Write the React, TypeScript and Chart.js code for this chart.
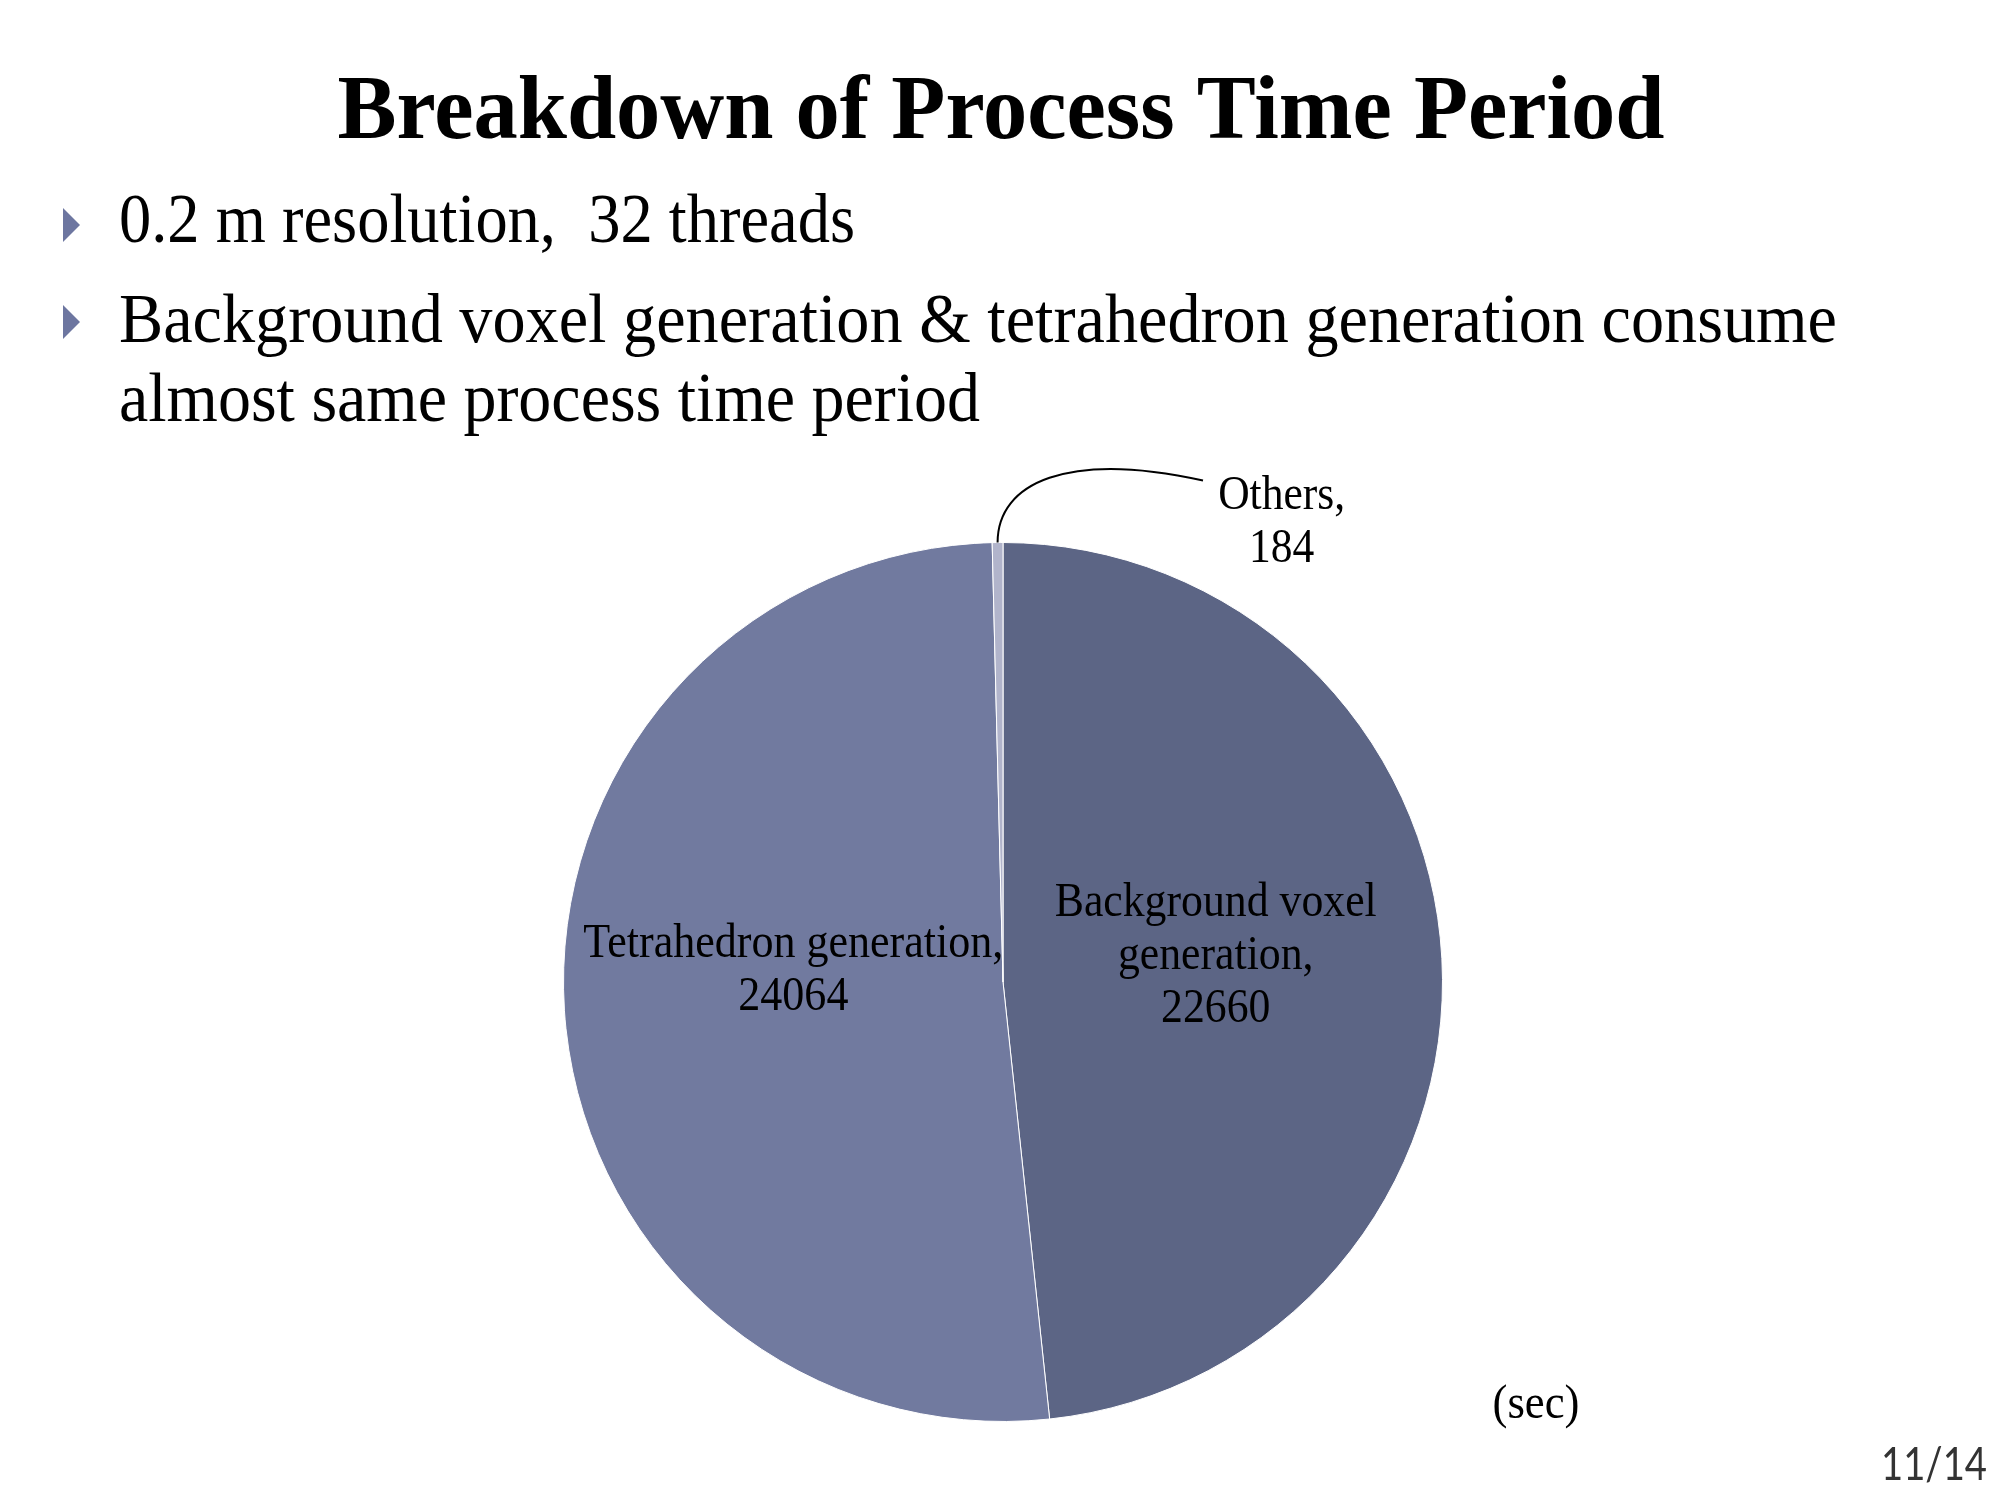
import React, { useEffect, useRef } from 'react';
import { Chart, registerables } from 'chart.js';

Chart.register(...registerables);

// ---- data ----
const categories = ['Background voxel generation', 'Tetrahedron generation', 'Others'];
const seconds = [22660, 24064, 184];
const labelLines = [['Background voxel', 'generation,'], ['Tetrahedron generation,'], ['Others,']];
const titleText = 'Breakdown of Process Time Period';
const bullet1 = ['0.2 m resolution,  32 threads'];
const bullet2 = ['Background voxel generation & tetrahedron generation consume', 'almost same process time period'];
const unitText = '(sec)';
const pageText = '11/14';

// ---- style ----
const sliceColors = ['#5c6585', '#717a9f', '#b1b4cb'];
// label anchor offsets relative to pie centre, in units of radius (first baseline)
const labelOffsets = [
  { dx: 0.484, dy: -0.15 },
  { dx: -0.477, dy: -0.057 },
  { dx: 0.634, dy: -1.077 },
];
const labelFirstWidths = [322, 420, 127];
const SERIF = '"Liberation Serif", "Times New Roman", serif';

function drawText(
  ctx: CanvasRenderingContext2D,
  s: string,
  x: number,
  y: number,
  font: string,
  color: string,
  align: 'left' | 'center' | 'right',
  width?: number
) {
  ctx.save();
  ctx.font = font;
  ctx.fillStyle = color;
  ctx.textBaseline = 'alphabetic';
  ctx.textAlign = 'left';
  const w = ctx.measureText(s).width;
  const k = width ? width / w : 1;
  const left = align === 'center' ? x - (w * k) / 2 : align === 'right' ? x - w * k : x;
  ctx.translate(left, y);
  ctx.scale(k, 1);
  ctx.fillText(s, 0, 0);
  ctx.restore();
  return k;
}

function triangle(ctx: CanvasRenderingContext2D, x: number, cy: number) {
  ctx.save();
  ctx.fillStyle = '#6d76a0';
  ctx.beginPath();
  ctx.moveTo(x, cy - 17);
  ctx.lineTo(x + 17, cy);
  ctx.lineTo(x, cy + 17);
  ctx.closePath();
  ctx.fill();
  ctx.restore();
}

const overlay = {
  id: 'overlay',
  afterDraw(chart: any) {
    const ctx: CanvasRenderingContext2D = chart.ctx;
    // Title
    drawText(ctx, titleText, 1001, 138, `bold 91px ${SERIF}`, '#000', 'center', 1327);
    // Bullets
    triangle(ctx, 63, 225);
    drawText(ctx, bullet1[0], 119, 242, `70px ${SERIF}`, '#000', 'left', 736);
    triangle(ctx, 63, 322);
    drawText(ctx, bullet2[0], 119, 342, `70px ${SERIF}`, '#000', 'left', 1718);
    drawText(ctx, bullet2[1], 119, 421, `70px ${SERIF}`, '#000', 'left', 861);

    // Data labels
    const meta = chart.getDatasetMeta(0);
    const first: any = meta.data[0];
    const cx = first.x;
    const cy = first.y;
    const r = first.outerRadius;
    const lh = 53;
    const font = `48px ${SERIF}`;
    meta.data.forEach((_: any, i: number) => {
      const off = labelOffsets[i];
      const lx = cx + off.dx * r;
      let ly = cy + off.dy * r;
      const lines = [...labelLines[i], String(seconds[i])];
      let k = 1;
      lines.forEach((ln, j) => {
        if (j === 0) {
          k = drawText(ctx, ln, lx, ly, font, '#000', 'center', labelFirstWidths[i]);
        } else {
          ctx.save();
          ctx.font = font;
          const w = ctx.measureText(ln).width;
          ctx.restore();
          drawText(ctx, ln, lx, ly, font, '#000', 'center', w * k);
        }
        ly += lh;
      });
    });

    // Leader line for Others
    const oth: any = meta.data[2];
    const a = (oth.startAngle + oth.endAngle) / 2;
    const sx = cx + Math.cos(a) * r;
    const sy = cy + Math.sin(a) * r;
    ctx.save();
    ctx.strokeStyle = '#000';
    ctx.lineWidth = 2;
    ctx.beginPath();
    ctx.moveTo(sx, sy);
    ctx.bezierCurveTo(sx, sy - 60, sx + 70, sy - 92, cx + 200, cy - r - 62);
    ctx.stroke();
    ctx.restore();

    // Unit and page number
    drawText(ctx, unitText, 1536, 1418, `48px ${SERIF}`, '#000', 'center', 87);
    drawText(ctx, pageText, 1987, 1480, `400 46px Lato, "Open Sans", sans-serif`, '#333333', 'right', 106);
  },
};

export default function App() {
  const ref = useRef<HTMLCanvasElement | null>(null);
  useEffect(() => {
    document.body.style.margin = '0';
    document.body.style.background = '#ffffff';
    if (!ref.current) return;
    const chart = new Chart(ref.current, {
      type: 'pie',
      data: {
        labels: categories,
        datasets: [
          {
            data: seconds,
            backgroundColor: sliceColors,
            borderColor: '#ffffff',
            borderWidth: 1,
          },
        ],
      },
      options: {
        animation: false,
        responsive: true,
        maintainAspectRatio: false,
        layout: { padding: { left: 563, right: 557, top: 542, bottom: 78 } },
        plugins: {
          legend: { display: false },
          tooltip: { enabled: false },
        },
      },
      plugins: [overlay],
    });
    return () => chart.destroy();
  }, []);
  return (
    <div style={{ width: 2000, height: 1500, position: 'relative', background: '#fff' }}>
      <canvas ref={ref} />
    </div>
  );
}
